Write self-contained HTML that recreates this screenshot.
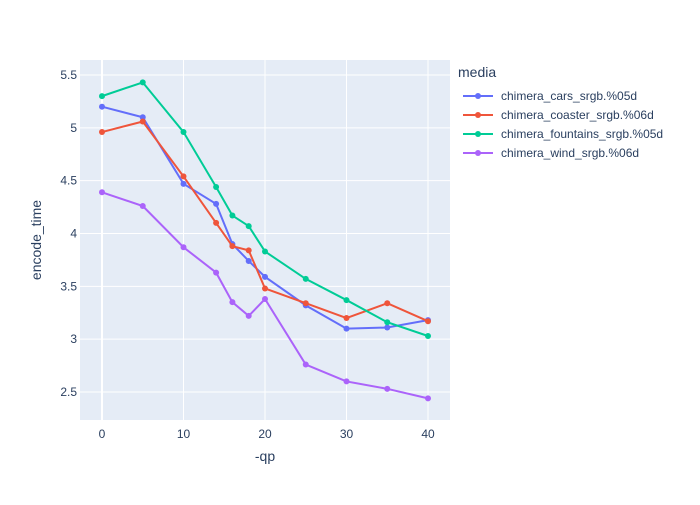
<!DOCTYPE html><html><head><style>body{margin:0;background:#fff}svg text{font-family:"Liberation Sans",sans-serif;fill:#2a3f5f}</style></head><body>
<svg id="s" width="700" height="500" xmlns="http://www.w3.org/2000/svg"></svg>
<script>
const s=document.getElementById('s');let h='';
const X=v=>102+v*8.15, Y=v=>392-(v-2.5)*105.67;
h+='<rect x="80" y="60" width="370" height="360" fill="#e5ecf6"/>';
[0,10,20,30,40].forEach(v=>{h+=`<line x1="${X(v)}" x2="${X(v)}" y1="60" y2="420" stroke="#fff" stroke-width="${v==0?2:1}"/><text x="${X(v)}" y="438" font-size="12" text-anchor="middle">${v}</text>`});
[2.5,3,3.5,4,4.5,5,5.5].forEach(v=>{h+=`<line x1="80" x2="450" y1="${Y(v)}" y2="${Y(v)}" stroke="#fff"/><text x="77" y="${Y(v)+4}" font-size="12" text-anchor="end">${v}</text>`});
h+='<text x="265" y="461" font-size="14" text-anchor="middle">-qp</text>';
h+='<text transform="translate(41,240) rotate(-90)" font-size="14" text-anchor="middle">encode_time</text>';
const xs=[0,5,10,14,16,18,20,25,30,35,40];
const S=[["chimera_cars_srgb.%05d","#636efa",[5.2,5.1,4.47,4.28,3.9,3.74,3.59,3.32,3.10,3.11,3.18]],
["chimera_coaster_srgb.%06d","#ef553b",[4.96,5.06,4.54,4.10,3.88,3.84,3.48,3.34,3.20,3.34,3.17]],
["chimera_fountains_srgb.%05d","#00cc96",[5.30,5.43,4.96,4.44,4.17,4.07,3.83,3.57,3.37,3.16,3.03]],
["chimera_wind_srgb.%06d","#ab63fa",[4.39,4.26,3.87,3.63,3.35,3.22,3.38,2.76,2.60,2.53,2.44]]];
h+='<text x="458" y="77" font-size="14">media</text>';
S.forEach((d,i)=>{h+=`<polyline fill="none" stroke="${d[1]}" stroke-width="2" points="${xs.map((x,j)=>X(x)+','+Y(d[2][j])).join(' ')}"/>`;
xs.forEach((x,j)=>h+=`<circle cx="${X(x)}" cy="${Y(d[2][j])}" r="3" fill="${d[1]}"/>`);
const ly=100+i*19;h+=`<line x1="463" x2="493" y1="${ly-4}" y2="${ly-4}" stroke="${d[1]}" stroke-width="2"/><circle cx="478" cy="${ly-4}" r="3" fill="${d[1]}"/><text x="501" y="${ly}" font-size="12">${d[0]}</text>`});
s.innerHTML=h;
</script></body></html>
